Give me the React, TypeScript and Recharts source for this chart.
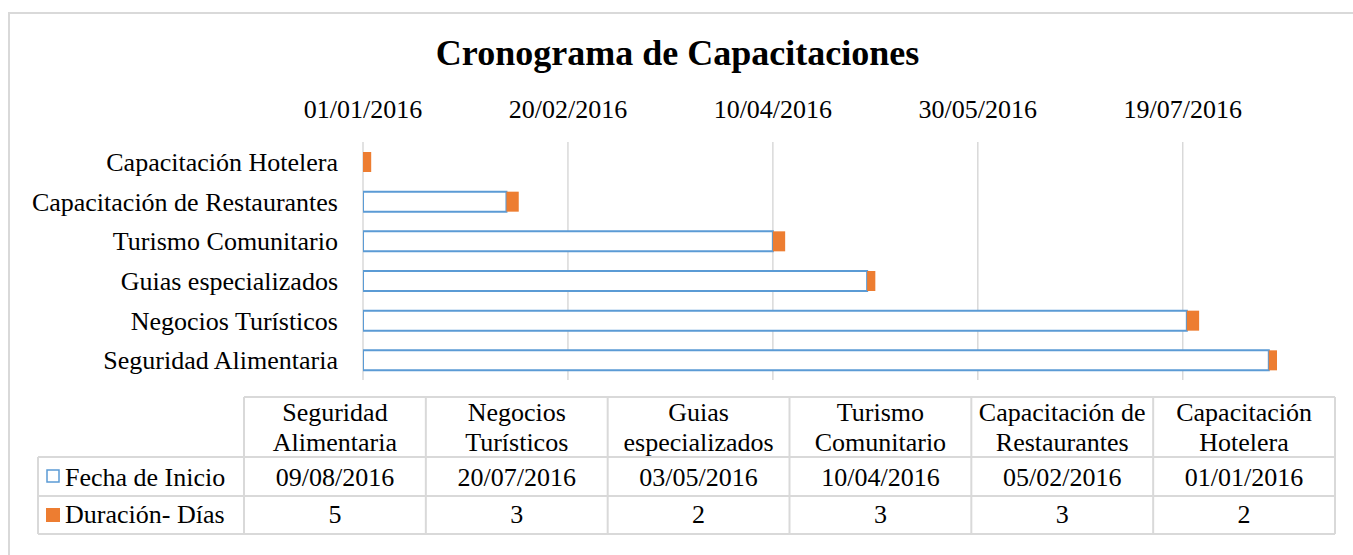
import React from "react";
import { BarChart, Bar, XAxis, YAxis, CartesianGrid } from "recharts";

const chartTitle = "Cronograma de Capacitaciones";
const categories = [
  "Seguridad Alimentaria",
  "Negocios Turísticos",
  "Guias especializados",
  "Turismo Comunitario",
  "Capacitación de Restaurantes",
  "Capacitación Hotelera",
];
const startDates = ["09/08/2016", "20/07/2016", "03/05/2016", "10/04/2016", "05/02/2016", "01/01/2016"];
const durations = [5, 3, 2, 3, 3, 2];
const seriesNames = ["Fecha de Inicio", "Duración- Días"];
const axisTickLabels = ["01/01/2016", "20/02/2016", "10/04/2016", "30/05/2016", "19/07/2016"];
const axisMinDate = "01/01/2016";
const axisMaxDate = "11/08/2016";

const FONT = '"Liberation Serif", "Times New Roman", serif';
const BLUE = "#5b9bd5";
const ORANGE = "#ed7d31";
const GRID = "#d9d9d9";

const toUTC = (s: string) => {
  const [d, m, y] = s.split("/").map(Number);
  return Date.UTC(y, m - 1, d);
};
const DAY = 86400000;
const base = toUTC(axisMinDate);
const offsetOf = (s: string) => Math.round((toUTC(s) - base) / DAY);
const fmt = (v: number) => {
  const dt = new Date(base + v * DAY);
  const dd = String(dt.getUTCDate()).padStart(2, "0");
  const mm = String(dt.getUTCMonth() + 1).padStart(2, "0");
  return `${dd}/${mm}/${dt.getUTCFullYear()}`;
};

const data = categories.map((name, i) => ({
  name,
  start: offsetOf(startDates[i]),
  dur: durations[i],
}));
const tickOffsets = axisTickLabels.map(offsetOf);
const maxOffset = offsetOf(axisMaxDate);

const splitHeader = (s: string) => {
  const idx = s.lastIndexOf(" ");
  return [s.slice(0, idx), s.slice(idx + 1)];
};

// table layout
const TX0 = 244;
const TX1 = 1335;
const LX = 38;
const RY = [397, 457, 496, 534];

const Table = () => {
  const colW = (TX1 - TX0) / categories.length;
  const lines: React.ReactNode[] = [];
  const st = { stroke: GRID, strokeWidth: 2 };
  lines.push(<line key="h0" x1={TX0} x2={TX1} y1={RY[0]} y2={RY[0]} {...st} />);
  for (let r = 1; r < 4; r++) lines.push(<line key={"h" + r} x1={LX} x2={TX1} y1={RY[r]} y2={RY[r]} {...st} />);
  lines.push(<line key="vL" x1={LX} x2={LX} y1={RY[1]} y2={RY[3]} {...st} />);
  for (let c = 0; c <= categories.length; c++) {
    const x = TX0 + c * colW;
    lines.push(<line key={"v" + c} x1={x} x2={x} y1={RY[0]} y2={RY[3]} {...st} />);
  }
  return (
    <g fontFamily={FONT} fontSize={26} fill="#000">
      {lines}
      {categories.map((c, i) => {
        const cx = TX0 + (i + 0.5) * colW;
        const [l1, l2] = splitHeader(c);
        return (
          <g key={c}>
            <text x={cx} y={421} textAnchor="middle">{l1}</text>
            <text x={cx} y={451} textAnchor="middle">{l2}</text>
            <text x={cx} y={486} textAnchor="middle">{startDates[i]}</text>
            <text x={cx} y={523} textAnchor="middle">{durations[i]}</text>
          </g>
        );
      })}
      <rect x={47} y={470} width={12} height={12} fill="#fff" stroke={BLUE} strokeWidth={1.5} />
      <text x={65} y={486}>{seriesNames[0]}</text>
      <rect x={46} y={508} width={14} height={14} fill={ORANGE} />
      <text x={65} y={523}>{seriesNames[1]}</text>
    </g>
  );
};

const gridX = (args: any) => {
  const scale = args?.xAxis?.scale;
  if (scale && typeof scale === "function") return tickOffsets.map((v) => scale(v));
  if (scale && typeof scale.map === "function") return tickOffsets.map((v) => scale.map(v));
  return [];
};

export default function App() {
  return (
    <div
      style={{
        position: "fixed",
        left: 0,
        top: 0,
        width: 1353,
        height: 555,
        overflow: "hidden",
        background: "#fff",
        fontFamily: FONT,
      }}
    >
      <div
        style={{
          position: "absolute",
          left: 8,
          top: 12,
          width: 1400,
          height: 600,
          borderLeft: `2px solid ${GRID}`,
          borderTop: `2px solid ${GRID}`,
        }}
      />
      <div style={{ position: "absolute", left: 0, top: 0 }}>
        <BarChart
          width={1353}
          height={555}
          data={data}
          layout="vertical"
          margin={{ top: 112, right: 76, bottom: 175, left: 0 }}
          barSize={20}
        >
          <CartesianGrid
            horizontal={false}
            stroke={GRID}
            strokeWidth={1.5}
            verticalCoordinatesGenerator={gridX}
          />
          <XAxis
            type="number"
            orientation="top"
            domain={[0, maxOffset]}
            ticks={tickOffsets}
            allowDataOverflow
            interval={0}
            axisLine={false}
            tickLine={false}
            tickSize={0}
            tickMargin={24}
            height={30}
            tick={{ fontSize: 26, fill: "#000", fontFamily: FONT }}
            tickFormatter={fmt}
          />
          <YAxis
            type="category"
            dataKey="name"
            reversed
            width={363}
            interval={0}
            axisLine={false}
            tickLine={false}
            tickSize={0}
            tickMargin={25}
            tick={{ fontSize: 26, fill: "#000", fontFamily: FONT }}
          />
          <Bar dataKey="start" name={seriesNames[0]} stackId="a" fill="#fff" stroke={BLUE} strokeWidth={2} isAnimationActive={false} />
          <Bar dataKey="dur" name={seriesNames[1]} stackId="a" fill={ORANGE} isAnimationActive={false} />
        </BarChart>
      </div>
      <svg
        width={1353}
        height={555}
        style={{ position: "absolute", left: 0, top: 0, pointerEvents: "none" }}
      >
        <text x={677.5} y={65} textAnchor="middle" fontFamily={FONT} fontSize={36} fontWeight="bold" fill="#000">
          {chartTitle}
        </text>
        <Table />
      </svg>
    </div>
  );
}
